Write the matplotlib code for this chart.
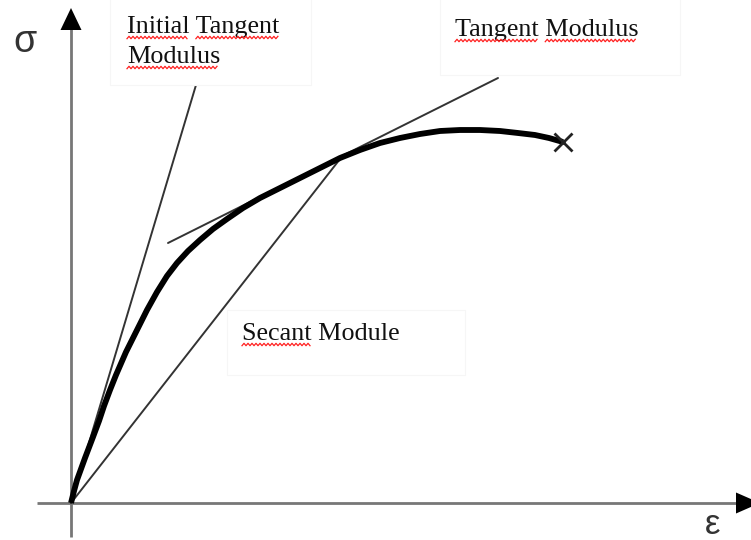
import numpy as np
import matplotlib.pyplot as plt
from matplotlib.patches import Rectangle
from matplotlib.textpath import TextPath
from matplotlib.font_manager import FontProperties

# stress-strain curve (arbitrary units, 1 unit = 100 px)
strain = [0.00, 0.03, 0.06, 0.10, 0.14, 0.18, 0.22, 0.28, 0.33, 0.39,
          0.45, 0.55, 0.66, 0.76, 0.86, 0.96, 1.06, 1.17, 1.29, 1.42,
          1.56, 1.72, 1.89, 2.09, 2.29, 2.49, 2.69, 2.89, 3.09, 3.29,
          3.49, 3.69, 3.89, 4.09, 4.29, 4.47, 4.64, 4.78, 4.92]
stress = [0.00, 0.12, 0.23, 0.34, 0.45, 0.555, 0.66, 0.82, 0.97, 1.13,
          1.28, 1.51, 1.73, 1.93, 2.11, 2.27, 2.40, 2.52, 2.63, 2.74,
          2.84, 2.95, 3.05, 3.15, 3.25, 3.35, 3.45, 3.53, 3.60, 3.65,
          3.69, 3.72, 3.73, 3.73, 3.72, 3.70, 3.68, 3.65, 3.61]

# modulus lines: (start, end)
initial_tangent = [(0.0, 0.0), (1.25, 4.18)]
tangent = [(0.97, 2.60), (4.27, 4.25)]
secant = [(0.0, 0.0), (2.69, 3.44)]

# labels: text, x, baseline y, words with red wavy underline
labels = [
    ("Initial Tangent", 0.56, 4.70, ["Initial", "Tangent"]),
    ("Modulus", 0.56, 4.40, ["Modulus"]),
    ("Tangent Modulus", 3.84, 4.67, ["Tangent", "Modulus"]),
    ("Secant Module", 1.71, 1.63, ["Secant"]),
]
# white label boxes (x0, y0, x1, y1)
boxes = [(0.39, 4.18, 2.40, 5.10), (3.69, 4.28, 6.09, 5.10), (1.56, 1.28, 3.94, 1.93)]

DPI = 100
fig = plt.figure(figsize=(7.51, 5.40), dpi=DPI)
ax = fig.add_axes([0, 0, 1, 1])
ax.set_xlim(-0.71, 6.80)
ax.set_ylim(-0.37, 5.03)
ax.axis('off')

# axes with arrows
axis_col = '#777777'
ax.plot([-0.34, 6.65], [0, 0], color=axis_col, lw=2.0, solid_capstyle='butt', zorder=1)
ax.plot([0, 0], [-0.34, 4.75], color=axis_col, lw=2.0, solid_capstyle='butt', zorder=1)
ax.arrow(6.65, 0, 0.24, 0, width=0, head_width=0.21, head_length=0.24,
         length_includes_head=True, fc='black', ec='none', zorder=2)
ax.arrow(0, 4.73, 0, 0.22, width=0, head_width=0.21, head_length=0.22,
         length_includes_head=True, fc='black', ec='none', zorder=2)

line_col = '#333333'
for seg in (initial_tangent, tangent, secant):
    xs, ys = zip(*seg)
    ax.plot(xs, ys, color=line_col, lw=1.4, solid_capstyle='round', zorder=3)

ax.plot(strain, stress, color='black', lw=4.2, solid_capstyle='butt',
        solid_joinstyle='round', zorder=4)
ax.plot(strain[-1], stress[-1], marker='x', ms=13, mew=2.0, color='#222222', zorder=5)

for x0, y0, x1, y1 in boxes:
    ax.add_patch(Rectangle((x0, y0), x1 - x0, y1 - y0, facecolor='white',
                           edgecolor='#f6f6f6', lw=0.8, zorder=6))

fs = 18.8
fp = FontProperties(family='Liberation Serif', size=fs)


def width_units(s):
    if not s:
        return 0.0
    w = TextPath((0, 0), s.replace(' ', '\u00a0'), prop=fp).get_extents().x1
    return w * DPI / 72 / 100


for text, x, y, words in labels:
    ax.text(x, y, text, fontproperties=fp, color='#111111', ha='left',
            va='baseline', zorder=7)
    for w in words:
        i = text.index(w)
        xa = x + width_units(text[:i] + 'x') - width_units('x') if i else x
        xb = xa + width_units(w)
        xx = np.arange(xa, xb, 0.02)
        yy = y - 0.045 + np.where(np.arange(len(xx)) % 2 == 0, -0.012, 0.012)
        ax.plot(xx, yy, color='#ff2020', lw=0.9, zorder=7)

ax.text(0.25 - 0.71, 4.61, 'σ', family='Liberation Sans', fontsize=27,
        ha='center', va='center', color='#333333', zorder=7)
ax.text(7.13 - 0.71, -0.22, 'ε', family='Liberation Sans', fontsize=25,
        ha='center', va='center', color='#333333', zorder=7)

fig.savefig('out.png', dpi=DPI)
